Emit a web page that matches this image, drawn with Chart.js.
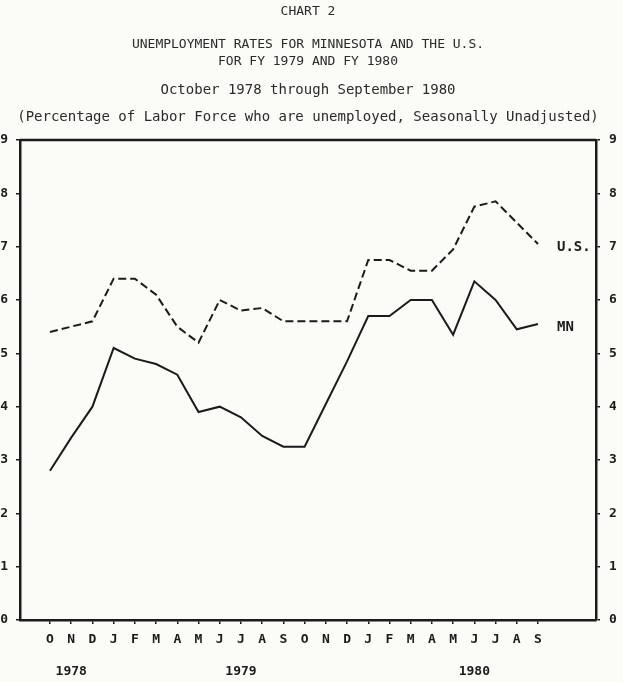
<!DOCTYPE html>
<html>
<head>
<meta charset="utf-8">
<script src="https://cdn.jsdelivr.net/npm/chart.js@4"></script>
<style>
  html, body { margin: 0; padding: 0; background: #fbfbf8; overflow: hidden; }
  #wrap { width: 623px; height: 682px; }
</style>
</head>
<body>
<div id="wrap"><canvas id="chart2"></canvas></div>
<script>
// October 1978 - September 1980, one point per month
const months = ['O','N','D','J','F','M','A','M','J','J','A','S','O','N','D','J','F','M','A','M','J','J','A','S'];
const years = ['', '1978', '', '', '', '', '', '', '', '1979', '', '', '', '', '', '', '', '', '', '', '1980', '', '', ''];
const rateUS = [5.4, 5.5, 5.6, 6.4, 6.4, 6.1, 5.5, 5.2, 6.0, 5.8, 5.85, 5.6, 5.6, 5.6, 5.6, 6.75, 6.75, 6.55, 6.55, 6.95, 7.75, 7.85, 7.45, 7.05];
const rateMN = [2.8, 3.42, 4.0, 5.1, 4.9, 4.8, 4.6, 3.9, 4.0, 3.8, 3.45, 3.25, 3.25, 4.05, 4.85, 5.7, 5.7, 6.0, 6.0, 5.35, 6.35, 6.0, 5.45, 5.55];
const seriesNames = ['U.S.', 'MN'];
const yMin = 0;
const yMax = 9;

const ink = '#1b1b1b';
const mono = '"DejaVu Sans Mono", monospace';

const tickLabels = months.map((m, i) => years[i] ? [m, years[i]] : m);

function toPoints(values) {
  return values.map((v, i) => ({ x: i, y: v }));
}

// top edge of the frame + series names at the end of each line
const extras = {
  id: 'extras',
  afterDatasetsDraw(chart) {
    const { ctx, chartArea } = chart;
    ctx.save();
    ctx.strokeStyle = ink;
    ctx.lineWidth = 2.5;
    ctx.beginPath();
    ctx.moveTo(chartArea.left, chartArea.top);
    ctx.lineTo(chartArea.right, chartArea.top);
    ctx.stroke();

    ctx.font = 'bold 14px ' + mono;
    ctx.fillStyle = ink;
    ctx.textBaseline = 'middle';
    chart.data.datasets.forEach((ds, i) => {
      const pts = chart.getDatasetMeta(i).data;
      const last = pts[pts.length - 1];
      ctx.fillText(ds.label, last.x + 19, last.y + 3);
    });
    ctx.restore();
  }
};

const yAxis = (pos) => ({
  type: 'linear',
  position: pos,
  min: yMin,
  max: yMax,
  afterFit: (scale) => { scale.width = 20; },
  grid: { drawOnChartArea: false, color: ink, tickLength: 4, lineWidth: 1.5 },
  border: { color: ink, width: 2.5 },
  ticks: {
    stepSize: 1,
    padding: pos === 'left' ? 8 : 9,
    color: ink,
    font: { family: mono, size: 13, weight: 'bold' }
  }
});

new Chart(document.getElementById('chart2'), {
  type: 'line',
  data: {
    datasets: [{
      label: seriesNames[0],
      data: toPoints(rateUS),
      borderColor: ink,
      borderWidth: 2,
      borderDash: [8, 4],
      pointRadius: 0,
      tension: 0,
      yAxisID: 'y'
    }, {
      label: seriesNames[1],
      data: toPoints(rateMN),
      borderColor: ink,
      borderWidth: 2,
      pointRadius: 0,
      tension: 0,
      yAxisID: 'y'
    }]
  },
  options: {
    responsive: true,
    maintainAspectRatio: false,
    animation: false,
    layout: { padding: { left: 0, right: 7, top: 0, bottom: 0 } },
    plugins: {
      legend: { display: false },
      tooltip: { enabled: false },
      title: {
        display: true,
        text: ['CHART 2', '', 'UNEMPLOYMENT RATES FOR MINNESOTA AND THE U.S.', 'FOR FY 1979 AND FY 1980'],
        color: '#2a2a2a',
        font: { family: mono, size: 13, weight: 'normal', lineHeight: '16.5px' },
        padding: { top: 3.75, bottom: 0 }
      },
      subtitle: {
        display: true,
        text: ['October 1978 through September 1980', '(Percentage of Labor Force who are unemployed, Seasonally Unadjusted)'],
        color: '#2a2a2a',
        font: { family: mono, size: 14, weight: 'normal', lineHeight: '27px' },
        padding: { top: 6.75, bottom: 9.5 }
      }
    },
    scales: {
      x: {
        type: 'linear',
        min: -1.414,
        max: 25.734,
        afterBuildTicks: (scale) => {
          scale.ticks = months.map((m, i) => ({ value: i }));
        },
        afterFit: (scale) => { scale.height = 62; },
        grid: { drawOnChartArea: false, color: ink, tickLength: 4, lineWidth: 1.5 },
        border: { color: ink, width: 2.5 },
        ticks: {
          autoSkip: false,
          maxRotation: 0,
          padding: 0,
          color: ink,
          font: { family: mono, size: 13, weight: 'bold', lineHeight: '32px' },
          callback: (value) => tickLabels[value]
        }
      },
      y: yAxis('left'),
      y2: yAxis('right')
    }
  },
  plugins: [extras]
});
</script>
</body>
</html>
